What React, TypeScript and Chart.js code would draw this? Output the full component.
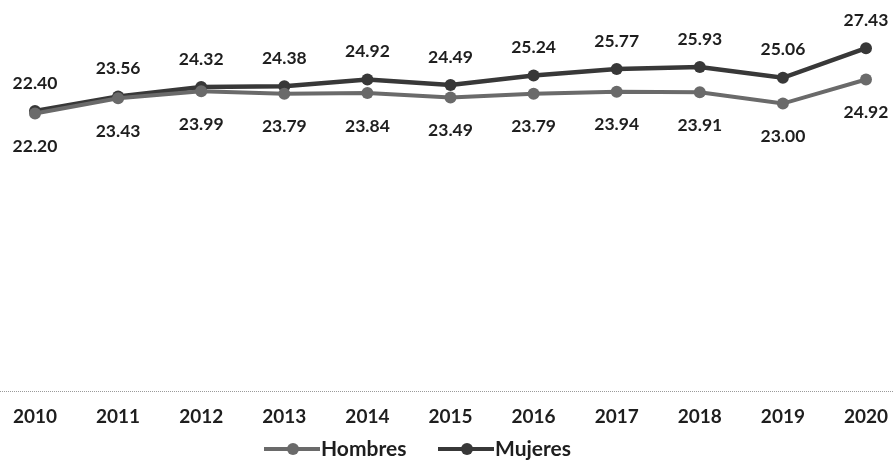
import React, { useEffect, useRef } from "react";
import { Chart, registerables } from "chart.js";

Chart.register(...registerables);

const years = ["2010", "2011", "2012", "2013", "2014", "2015", "2016", "2017", "2018", "2019", "2020"];
const hombres = [22.2, 23.43, 23.99, 23.79, 23.84, 23.49, 23.79, 23.94, 23.91, 23.0, 24.92];
const mujeres = [22.4, 23.56, 24.32, 24.38, 24.92, 24.49, 25.24, 25.77, 25.93, 25.06, 27.43];

const HOMBRES_COLOR = "#6a6a6a";
const MUJERES_COLOR = "#383838";
const FONT = "Lato, 'Open Sans', sans-serif";

export default function App() {
  const ref = useRef<HTMLCanvasElement | null>(null);

  useEffect(() => {
    document.body.style.margin = "0";
    const canvas = ref.current;
    if (!canvas) return;

    const overlay = {
      id: "overlay",
      beforeDatasetsDraw(chart: any) {
        const ctx = chart.ctx;
        const y = chart.scales.y.getPixelForValue(0);
        ctx.save();
        ctx.strokeStyle = "#9a9a9a";
        ctx.lineWidth = 1;
        ctx.setLineDash([1, 1]);
        ctx.beginPath();
        ctx.moveTo(0, Math.round(y) + 0.5);
        ctx.lineTo(chart.width, Math.round(y) + 0.5);
        ctx.stroke();
        ctx.restore();
      },
      afterDatasetsDraw(chart: any) {
        const ctx = chart.ctx;
        ctx.save();
        ctx.font = `bold 17.5px ${FONT}`;
        ctx.fillStyle = "#1e1e1e";
        ctx.textAlign = "center";
        ctx.textBaseline = "middle";
        chart.data.datasets.forEach((ds: any, i: number) => {
          const meta = chart.getDatasetMeta(i);
          const off = ds.label === "Mujeres" ? -28 : 33;
          meta.data.forEach((pt: any, j: number) => {
            ctx.fillText(Number(ds.data[j]).toFixed(2), pt.x, pt.y + off);
          });
        });
        // legend
        const ly = 449;
        const items = [
          { label: "Hombres", color: HOMBRES_COLOR, x: 264 },
          { label: "Mujeres", color: MUJERES_COLOR, x: 438 },
        ];
        ctx.textAlign = "left";
        ctx.font = `bold 21px ${FONT}`;
        items.forEach((it) => {
          ctx.strokeStyle = it.color;
          ctx.lineWidth = 4;
          ctx.beginPath();
          ctx.moveTo(it.x, ly);
          ctx.lineTo(it.x + 56, ly);
          ctx.stroke();
          ctx.fillStyle = it.color;
          ctx.beginPath();
          ctx.arc(it.x + 29, ly, 6, 0, Math.PI * 2);
          ctx.fill();
          ctx.fillStyle = "#1e1e1e";
          ctx.fillText(it.label, it.x + 57, ly);
        });
        ctx.restore();
      },
    };

    const chart = new Chart(canvas, {
      type: "line",
      data: {
        labels: years,
        datasets: [
          {
            label: "Hombres",
            data: hombres,
            borderColor: HOMBRES_COLOR,
            backgroundColor: HOMBRES_COLOR,
            borderWidth: 4,
            pointRadius: 6,
            pointBackgroundColor: HOMBRES_COLOR,
            pointBorderWidth: 0,
            tension: 0,
          },
          {
            label: "Mujeres",
            data: mujeres,
            borderColor: MUJERES_COLOR,
            backgroundColor: MUJERES_COLOR,
            borderWidth: 4.5,
            pointRadius: 6,
            pointBackgroundColor: MUJERES_COLOR,
            pointBorderWidth: 0,
            tension: 0,
          },
        ],
      },
      options: {
        responsive: false,
        animation: false,
        layout: { padding: { left: 35, right: 27, top: 16, bottom: 21 } },
        plugins: { legend: { display: false }, tooltip: { enabled: false } },
        scales: {
          x: {
            offset: false,
            grid: { display: false, drawTicks: false },
            border: { display: false },
            afterFit(scale: any) {
              scale.paddingLeft = 0;
              scale.paddingRight = 0;
            },
            ticks: {
              padding: 14,
              color: "#1e1e1e",
              font: { family: FONT, size: 19, weight: "bold" },
              maxRotation: 0,
              autoSkip: false,
            },
          },
          y: {
            display: false,
            min: 0,
            max: 30,
          },
        },
      },
      plugins: [overlay],
    });

    return () => chart.destroy();
  }, []);

  return <canvas ref={ref} width={893} height={463} style={{ display: "block" }} />;
}
